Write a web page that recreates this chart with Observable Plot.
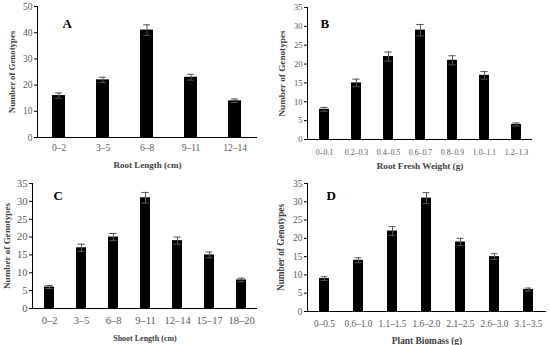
<!DOCTYPE html>
<html><head><meta charset="utf-8">
<script src="https://cdn.jsdelivr.net/npm/d3@7"></script>
<script src="https://cdn.jsdelivr.net/npm/@observablehq/plot@0.6"></script>
<style>
body{margin:0;background:#fff;}
#wrap{position:relative;width:550px;height:345px;overflow:hidden;}
#wrap > div{position:absolute;}
</style></head>
<body><div id="wrap"></div>
<script>
const catsA = ["0–2","3–5","6–8","9–11","12–14"];
const valsA = [16,22,41,23,14];
const errsA = [1,1,2,1.1,0.7];

const catsB = ["0–0.1","0.2–0.3","0.4–0.5","0.6–0.7","0.8–0.9","1.0–1.1","1.2–1.3"];
const valsB = [8,15,22,29,21,17,4];
const errsB = [0.5,1,1.2,1.5,1.2,1,0.4];

const catsC = ["0–2","3–5","6–8","9–11","12–14","15–17","18–20"];
const valsC = [6,17,20,31,19,15,8];
const errsC = [0.4,1,1,1.5,1,0.8,0.5];

const catsD = ["0–0.5","0.6–1.0","1.1–1.5","1.6–2.0","2.1–2.5","2.6–3.0","3.1–3.5"];
const valsD = [9,14,22,31,19,15,6];
const errsD = [0.5,0.7,1.2,1.5,1,0.8,0.4];

const panels = [
  {cats:catsA, vals:valsA, errs:errsA, letter:"A", xlabel:"Root Length (cm)", ymax:50, step:10,
   left:0, top:0, w:275, h:172, mL:37, mR:18, mT:6, mB:35, tp:7, xl:30, yl:29, ldx:25, ldy:17,
   fx:9.5, fy:9.5, ft:9, fyt:8.8},
  {cats:catsB, vals:valsB, errs:errsB, letter:"B", xlabel:"Root Fresh Weight (g)", ymax:35, step:5,
   left:275, top:0, w:275, h:172, mL:32, mR:18, mT:7, mB:33, tp:10, xl:29, yl:29, ldx:13, ldy:16,
   fx:7.8, fy:8.5, ft:9.2, fyt:9.2},
  {cats:catsC, vals:valsC, errs:errsC, letter:"C", xlabel:"Shoot Length (cm)", ymax:35, step:5,
   left:0, top:172, w:275, h:173, mL:32, mR:18, mT:11, mB:37, tp:8, xl:32, yl:29, ldx:21, ldy:12,
   fx:10.5, fy:10.5, ft:8, fyt:9.2},
  {cats:catsD, vals:valsD, errs:errsD, letter:"D", xlabel:"Plant Biomass (g)", ymax:35, step:5,
   left:275, top:172, w:275, h:173, mL:32, mR:4, mT:11, mB:34, tp:9, xl:32, yl:30, ldx:19, ldy:12,
   fx:9.3, fy:9.5, ft:9.4, fyt:9.3}
];

const wrap = document.getElementById("wrap");
for (const p of panels) {
  const data = p.cats.map((c,i) => ({cat:c, v:p.vals[i], e:p.errs[i]}));
  const pad = 0.7;
  const bw = (p.w - p.mL - p.mR) / p.cats.length * (1 - pad);
  const capInset = Math.max(0, (bw - 7) / 2);
  const chart = Plot.plot({
    width: p.w, height: p.h,
    marginLeft: p.mL, marginRight: p.mR, marginTop: p.mT, marginBottom: p.mB,
    style: {fontFamily: "'Liberation Serif', 'Times New Roman', serif", fontSize: "10px", background: "transparent", overflow: "visible"},
    x: {domain: p.cats, paddingInner: pad, paddingOuter: pad / 2, label: null},
    y: {domain: [0, p.ymax], label: null},
    marks: [
      Plot.barY(data, {x: "cat", y: "v", fill: "black"}),
      Plot.ruleX(data, {x: "cat", y1: d => d.v - d.e, y2: d => d.v + d.e, stroke: "#555", strokeWidth: 1}),
      Plot.tickY(data, {x: "cat", y: d => d.v + d.e, stroke: "#555", insetLeft: capInset, insetRight: capInset}),
      Plot.tickY(data, {x: "cat", y: d => d.v - d.e, stroke: "#555", insetLeft: capInset, insetRight: capInset}),
      Plot.axisX({tickSize: 0, tickPadding: p.tp, fill: "#595959", label: null, fontSize: p.fx}),
      Plot.axisY({ticks: d3.range(0, p.ymax + 1, p.step), tickSize: 3, tickPadding: 2, stroke: "black", fill: "#595959", label: null, fontSize: p.fy}),
      Plot.frame({anchor: "left", stroke: "black"}),
      Plot.ruleY([0], {stroke: "black", strokeWidth: 1.2}),
      Plot.text([p.xlabel], {frameAnchor: "bottom", text: d => d, dy: p.xl, lineAnchor: "bottom", fontWeight: "bold", fill: "#404040", fontSize: p.ft}),
      Plot.text(["Number of Genotypes"], {frameAnchor: "left", text: d => d, rotate: -90, dx: -p.yl, textAnchor: "middle", lineAnchor: "top", fontWeight: "bold", fill: "#404040", fontSize: p.fyt}),
      Plot.text([p.letter], {frameAnchor: "top-left", text: d => d, dx: p.ldx, dy: p.ldy, textAnchor: "start", lineAnchor: "middle", fontWeight: "bold", fill: "black", fontSize: 13})
    ]
  });
  const div = document.createElement("div");
  div.style.left = p.left + "px";
  div.style.top = p.top + "px";
  div.appendChild(chart);
  wrap.appendChild(div);
}
</script>
</body></html>
